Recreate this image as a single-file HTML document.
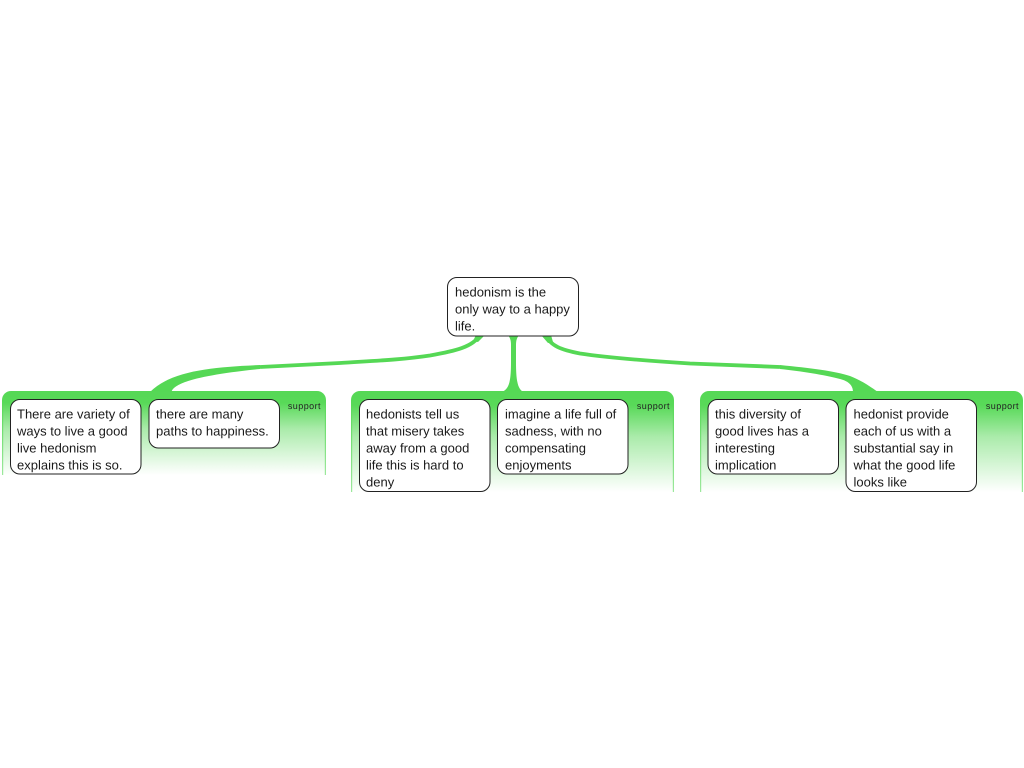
<!DOCTYPE html>
<html>
<head>
<meta charset="utf-8">
<style>
html,body{margin:0;padding:0;background:#fff;width:1024px;height:768px;overflow:hidden}
svg{display:block}
text{font-family:"Liberation Sans",Arial,sans-serif;font-size:13px;fill:#1a1a1a;text-rendering:geometricPrecision}
.s{font-size:9px;letter-spacing:.45px;text-anchor:end;fill:#222}
.n{fill:#fff;stroke:#222;stroke-width:1}
.c{fill:#55d855}
.l{fill:none;stroke:#55d855;stroke-width:3.8}
</style>
</head>
<body>
<svg width="1024" height="768" viewBox="0 0 1024 768" xmlns="http://www.w3.org/2000/svg">
<defs>
<linearGradient id="g" x1="0" y1="0" x2="0" y2="1">
<stop offset="0" stop-color="#55d855"/>
<stop offset=".14" stop-color="#58d958"/>
<stop offset=".45" stop-color="#aaebaa"/>
<stop offset="1" stop-color="#ffffff"/>
</linearGradient>
<linearGradient id="e" x1="0" y1="0" x2="0" y2="1">
<stop offset="0" stop-color="#55d855"/>
<stop offset="1" stop-color="#9ce89c"/>
</linearGradient>
</defs>

<!-- panels -->
<path d="M2 475V400a9 9 0 0 1 9-9H317a9 9 0 0 1 9 9V475Z" fill="url(#g)"/>
<path d="M351 492V400a9 9 0 0 1 9-9H665a9 9 0 0 1 9 9V492Z" fill="url(#g)"/>
<path d="M700 492V400a9 9 0 0 1 9-9H1014a9 9 0 0 1 9 9V492Z" fill="url(#g)"/>
<g fill="url(#e)">
<rect x="2" y="400" width="1.2" height="75"/><rect x="324.800" y="400" width="1.2" height="75"/>
<rect x="351" y="400" width="1.2" height="92"/><rect x="672.800" y="400" width="1.2" height="92"/>
<rect x="700" y="400" width="1.2" height="92"/><rect x="1021.800" y="400" width="1.2" height="92"/>
</g>

<!-- connectors -->
<path class="l" d="M480 335C473 347 455 351 430 355.500C400 360 370 361 340 363L260 367"/>
<path class="c" d="M260 365C215 367 172 370 150 392H171.500C173 383 200 375 260 369Z"/>
<path class="c" d="M476 335H485L478 342L473 341Z"/>
<path class="c" d="M508 335C510 338 511 340 511 345L511 362C511 382 509 390 501 392H524C518 390 516 382 516 362L516 345C516 340 517 338 519 335Z"/>
<path class="l" d="M546 335C550 346 562 350 580 353.500C610 358 650 361 690 363.500L780 367"/>
<path class="c" d="M780 365C810 368 835 371 850 376C862 381 868 385 878 392H853C853 385 848 381 840 379C825 375 800 371 780 369Z"/>
<path class="c" d="M541 335H551L553 342L548 343Z"/>

<!-- central node -->
<rect class="n" x="447.500" y="277.500" width="131" height="58.500" rx="9.500"/>
<text x="455" y="296.500">hedonism is the</text>
<text x="455" y="313.500">only way to a happy</text>
<text x="455" y="330.500">life.</text>

<!-- left group -->
<rect class="n" x="10.500" y="399.500" width="130.500" height="74.500" rx="9.500"/>
<text x="17" y="418.500">There are variety of</text>
<text x="17" y="435.500">ways to live a good</text>
<text x="17" y="452.500">live hedonism</text>
<text x="17" y="469.500">explains this is so.</text>
<rect class="n" x="149" y="399.500" width="130.500" height="48.500" rx="9.500"/>
<text x="156" y="418.500">there are many</text>
<text x="156" y="435.500">paths to happiness.</text>
<text class="s" x="321" y="409">support</text>

<!-- middle group -->
<rect class="n" x="359.500" y="399.500" width="130.500" height="92" rx="9.500"/>
<text x="366" y="418.500">hedonists tell us</text>
<text x="366" y="435.500">that misery takes</text>
<text x="366" y="452.500">away from a good</text>
<text x="366" y="469.500">life this is hard to</text>
<text x="366" y="486.500">deny</text>
<rect class="n" x="497.500" y="399.500" width="130.500" height="74.500" rx="9.500"/>
<text x="505" y="418.500">imagine a life full of</text>
<text x="505" y="435.500">sadness, with no</text>
<text x="505" y="452.500">compensating</text>
<text x="505" y="469.500">enjoyments</text>
<text class="s" x="670" y="409">support</text>

<!-- right group -->
<rect class="n" x="708" y="399.500" width="130.500" height="74.500" rx="9.500"/>
<text x="715" y="418.500">this diversity of</text>
<text x="715" y="435.500">good lives has a</text>
<text x="715" y="452.500">interesting</text>
<text x="715" y="469.500">implication</text>
<rect class="n" x="846" y="399.500" width="130.500" height="92" rx="9.500"/>
<text x="853.500" y="418.500">hedonist provide</text>
<text x="853.500" y="435.500">each of us with a</text>
<text x="853.500" y="452.500">substantial say in</text>
<text x="853.500" y="469.500">what the good life</text>
<text x="853.500" y="486.500">looks like</text>
<text class="s" x="1019" y="409">support</text>
</svg>
</body>
</html>
